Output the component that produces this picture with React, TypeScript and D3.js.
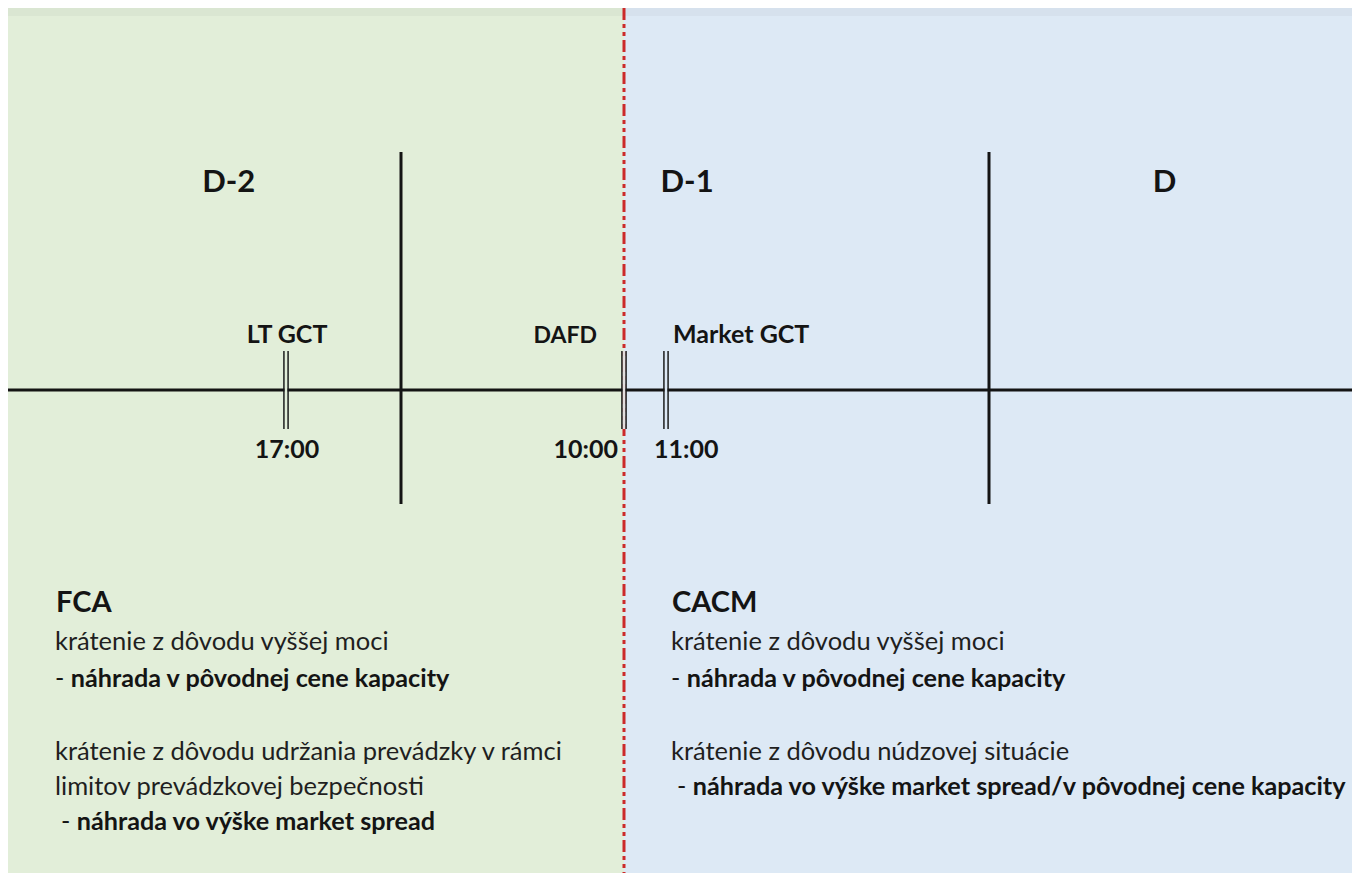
import { useEffect, useRef } from "react";
import * as d3 from "d3";

const W = 1352;
const H = 873;

// timeline, in hours counted from start of D-2 (schematic, not to scale)
const DAYS = ["D-2", "D-1", "D"];
const DAY_LABEL_HOURS = [13.5, 35.85, 59.6];
const DAY_BOUNDS = [24, 48];
const EVENTS = ["LT GCT", "DAFD", "Market GCT"];
const EVENT_HOURS = [17, 34, 35];
const EVENT_TIMES = ["17:00", "10:00", "11:00"];
const SPLIT_HOUR = 34; // DAFD -> FCA | CACM

const LEFT_TITLE = "FCA";
const LEFT_LINES = [
  { t: "krátenie z dôvodu vyššej moci", bold: false },
  { t: "náhrada v pôvodnej cene kapacity", bold: true },
  { t: "", bold: false },
  { t: "krátenie z dôvodu udržania prevádzky v rámci", bold: false },
  { t: "limitov prevádzkovej bezpečnosti", bold: false },
  { t: "náhrada vo výške market spread", bold: true, indent: true },
];
const RIGHT_TITLE = "CACM";
const RIGHT_LINES = [
  { t: "krátenie z dôvodu vyššej moci", bold: false },
  { t: "náhrada v pôvodnej cene kapacity", bold: true },
  { t: "", bold: false },
  { t: "krátenie z dôvodu núdzovej situácie", bold: false },
  { t: "náhrada vo výške market spread/v pôvodnej cene kapacity", bold: true, indent: true },
];

const FONT = "Lato, 'Open Sans', sans-serif";
const GREEN = "#e2eed9";
const BLUE = "#dde9f5";
const INK = "#141414";

export default function App() {
  const svgRef = useRef<SVGSVGElement>(null);

  useEffect(() => {
    if (!svgRef.current) return;
    const svg = d3.select(svgRef.current);
    svg.selectAll("*").remove();

    const x = d3.scaleLinear()
      .domain([0, 17, 24, 34, 35, 48, 72])
      .range([8, 286, 401, 624, 666, 989, 1352]);
    const axisY = 390;
    const xs = x(SPLIT_HOUR);

    // ── backgrounds ─────────────────────────────────────────────
    svg.append("rect").attr("width", W).attr("height", H).attr("fill", "#fff");
    svg.append("rect").attr("x", 8).attr("y", 8)
      .attr("width", xs - 8).attr("height", H - 8).attr("fill", GREEN);
    svg.append("rect").attr("x", xs).attr("y", 8)
      .attr("width", W - xs).attr("height", H - 8).attr("fill", BLUE);
    svg.append("rect").attr("x", 8).attr("y", 8)
      .attr("width", W - 8).attr("height", 8).attr("fill", "#000").attr("opacity", 0.03);

    // ── day dividers + axis ─────────────────────────────────────
    svg.selectAll("line.day")
      .data(DAY_BOUNDS)
      .join("line")
      .attr("class", "day")
      .attr("x1", d => x(d)).attr("x2", d => x(d))
      .attr("y1", 152).attr("y2", 504)
      .attr("stroke", INK).attr("stroke-width", 3);

    svg.append("line")
      .attr("x1", 8).attr("x2", W)
      .attr("y1", axisY).attr("y2", axisY)
      .attr("stroke", INK).attr("stroke-width", 3);

    // red split (dash-dot-dot)
    svg.append("line")
      .attr("x1", xs).attr("x2", xs)
      .attr("y1", 8).attr("y2", H)
      .attr("stroke", "#cc2a2a").attr("stroke-width", 3)
      .attr("stroke-dasharray", "12,4,4,4,4,4");

    svg.selectAll("text.day")
      .data(DAYS)
      .join("text")
      .attr("class", "day")
      .attr("x", (_, i) => x(DAY_LABEL_HOURS[i]))
      .attr("y", 192)
      .attr("text-anchor", "middle")
      .attr("font-family", FONT).attr("font-weight", 700).attr("font-size", 31)
      .attr("fill", INK)
      .text(d => d);

    // ── event ticks (double bars) ───────────────────────────────
    const ev = svg.selectAll("g.ev")
      .data(EVENTS.map((name, i) => ({ name, h: EVENT_HOURS[i], time: EVENT_TIMES[i], i })))
      .join("g")
      .attr("class", "ev")
      .attr("transform", d => `translate(${x(d.h)},0)`);

    for (const dx of [-2, 2]) {
      ev.append("line")
        .attr("x1", dx).attr("x2", dx)
        .attr("y1", axisY - 39).attr("y2", axisY + 39)
        .attr("stroke", INK).attr("stroke-width", 1.6);
    }
    ev.append("rect")
      .attr("x", -1.2).attr("width", 2.4)
      .attr("y", axisY - 39).attr("height", 78)
      .attr("fill", d => (d.h < SPLIT_HOUR ? GREEN : d.h === SPLIT_HOUR ? "#e3dede" : BLUE));

    const nameAnchor = ["middle", "end", "start"];
    const nameDx = [1, -27, 7];
    const timeAnchor = ["middle", "end", "start"];
    const timeDx = [1, -6, -12];

    ev.append("text")
      .attr("x", d => nameDx[d.i]).attr("y", 343)
      .attr("text-anchor", d => nameAnchor[d.i])
      .attr("font-family", FONT).attr("font-weight", 700)
      .attr("font-size", d => (d.name === "DAFD" ? 23 : 25))
      .attr("fill", INK)
      .text(d => d.name);

    ev.append("text")
      .attr("x", d => timeDx[d.i]).attr("y", 458)
      .attr("text-anchor", d => timeAnchor[d.i])
      .attr("font-family", FONT).attr("font-weight", 700).attr("font-size", 25)
      .attr("fill", INK)
      .text(d => d.time);

    // ── text blocks ─────────────────────────────────────────────
    const block = (x0: number, title: string, lines: typeof LEFT_LINES) => {
      const g = svg.append("g").attr("font-family", FONT).attr("fill", INK);
      g.append("text").attr("x", x0 + 1).attr("y", 612)
        .attr("font-size", 29).attr("font-weight", 700).text(title);
      const ys = [650, 687, 723, 760, 795, 830];
      lines.forEach((ln, i) => {
        if (!ln.t) return;
        const t = g.append("text")
          .attr("x", x0 + (ln.indent ? 6 : 0)).attr("y", ys[i]);
        if (ln.bold) {
          t.attr("font-size", 25.2);
          t.append("tspan").attr("font-weight", 400).text("- ");
          t.append("tspan").attr("font-weight", 700).text(ln.t);
        } else {
          t.attr("font-size", 25.5).attr("fill", "#1f1f1f").text(ln.t);
        }
      });
    };
    block(55, LEFT_TITLE, LEFT_LINES);
    block(671, RIGHT_TITLE, RIGHT_LINES);
  }, []);

  return (
    <svg
      ref={svgRef}
      width={W}
      height={H}
      style={{ position: "absolute", left: 0, top: 0, display: "block" }}
    />
  );
}
